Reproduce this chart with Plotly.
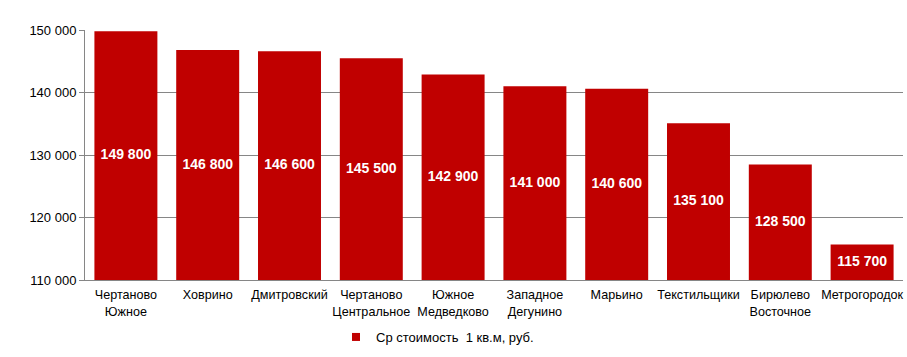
import plotly.graph_objects as go

categories = ["Чертаново<br>Южное", "Ховрино", "Дмитровский", "Чертаново<br>Центральное",
              "Южное<br>Медведково", "Западное<br>Дегунино", "Марьино", "Текстильщики",
              "Бирюлево<br>Восточное", "Метрогородок"]
values = [149800, 146800, 146600, 145500, 142900, 141000, 140600, 135100, 128500, 115700]
series_name = "Ср стоимость  1 кв.м, руб."
y_ticks = [110000, 120000, 130000, 140000, 150000]

y_min = y_ticks[0]
label_pos = [(v + y_min) / 2 for v in values]
bar_color = "#C00000"

fig = go.Figure()
fig.add_trace(go.Bar(
    x=categories, y=values, name=series_name,
    marker=dict(color=bar_color, line=dict(width=0)),
    showlegend=False, hoverinfo="x+y", legendgroup="s",
))
fig.add_trace(go.Scatter(
    x=categories, y=label_pos, mode="text",
    text=[f"<b>{v:,.0f}</b>".replace(",", " ") for v in values],
    textposition="middle center",
    textfont=dict(family="Liberation Sans, Arial", size=14, color="white"),
    showlegend=False, hoverinfo="skip",
))
# legend entry with a small square swatch, as in the reference
fig.add_trace(go.Scatter(
    x=[None], y=[None], mode="markers", name=series_name, legendgroup="s",
    marker=dict(symbol="square", size=8, color=bar_color), showlegend=True,
))

fig.update_layout(
    width=907, height=357,
    margin=dict(l=85, r=4, t=30, b=77),
    paper_bgcolor="white", plot_bgcolor="white",
    separators=", ",
    bargap=0.23,
    font=dict(family="Liberation Sans, Arial", size=12.6, color="#000000"),
    xaxis=dict(showline=True, linecolor="#868686", linewidth=1, ticks="",
               tickfont=dict(size=12.6), showgrid=False, automargin=False,
               ticklabelstandoff=3),
    yaxis=dict(range=[110000, 150000], tickvals=y_ticks, tickformat=",.0f",
               showline=True, linecolor="#868686", linewidth=1,
               ticks="outside", ticklen=5, tickcolor="#868686",
               showgrid=True, gridcolor="#868686", gridwidth=1,
               zeroline=False, tickfont=dict(size=13), automargin=False),
    legend=dict(orientation="h", xref="container", yref="container",
                x=336 / 907, xanchor="left", y=(357 - 337) / 357, yanchor="middle",
                font=dict(size=13), itemwidth=30),
)

fig.write_html("out.html", config={"displayModeBar": False},
               post_script="document.body.style.margin='0';")
